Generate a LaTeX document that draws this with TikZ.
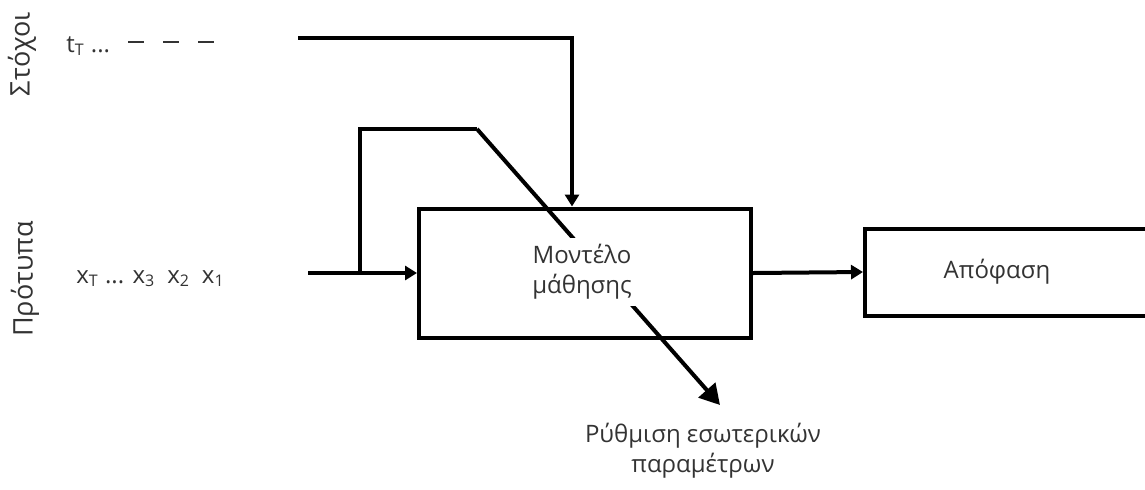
\documentclass[tikz,border=0pt]{standalone}
\usepackage{fontspec}
\setmainfont{Open Sans}
\usetikzlibrary{arrows.meta,positioning}
\definecolor{txt}{HTML}{333333}
\tikzset{
  conn/.style={line width=2pt, black},
  arr/.style={conn, -{Triangle[length=6pt,width=7pt]}},
  bigarr/.style={conn, -{Triangle[length=10pt,width=11pt]}},
  blockbox/.style={draw=black, line width=2pt, rectangle, inner sep=0pt},
  lbl/.style={text=txt, font=\fontsize{12}{15}\selectfont, align=center, inner sep=1pt},
  sidelbl/.style={text=txt, font=\fontsize{13.5}{16}\selectfont, rotate=90, inner sep=0pt},
}
\begin{document}
\begin{tikzpicture}[x=0.5pt,y=-0.5pt]
\useasboundingbox (0,0) rectangle (1145,489);
\clip (0,0) rectangle (1145,489);
% boxes
\node[blockbox, minimum width=166pt, minimum height=64.5pt] (model) at (585,273) {};
\node[blockbox, minimum width=147.5pt, minimum height=43.5pt] (dec) at (1012.5,272) {};
% side labels
\node[sidelbl] (stoxoi) at (22,54) {Στόχοι};
\node[sidelbl] (protypa) at (25,279) {Πρότυπα};
% sequences
\node[lbl, anchor=base west] (tseq) at (64,52) {t\textsubscript{T} ...};
\coordinate (dstart) at (128,42);
\coordinate (dend) at (215,42);
\draw[line width=0.7pt, txt, dash pattern=on 8pt off 9.5pt] (dstart) -- (dend);
\node[lbl, anchor=base west] (xseq) at (74,283) {x\textsubscript{T} ... x\textsubscript{3}\enspace x\textsubscript{2}\enspace x\textsubscript{1}};
% connectors
\coordinate (tstart) at (298,38);
\draw[arr] (tstart) -| ([xshift=-6.5pt]model.north);
\coordinate (xin) at (308,273);
\coordinate (j) at (360,273);
\coordinate (fb1) at (360,129);
\coordinate (fb2) at (477,129);
\coordinate (adj) at (720,405);
\draw[arr] (xin) -- (model.west);
\draw[conn] (j) -- (fb1) -- (fb2);
\draw[bigarr] (fb2) -- (adj);
\draw[arr] (model.east) -- (dec.west);
% texts
\node[lbl, fill=white, inner sep=3pt] (mtext) at (582,272) {Μοντέλο\\μάθησης};
\node[lbl] (dtext) at (997,272) {Απόφαση};
\node[lbl] (ptext) at (703,451) {Ρύθμιση εσωτερικών\\παραμέτρων};
\end{tikzpicture}
\end{document}
